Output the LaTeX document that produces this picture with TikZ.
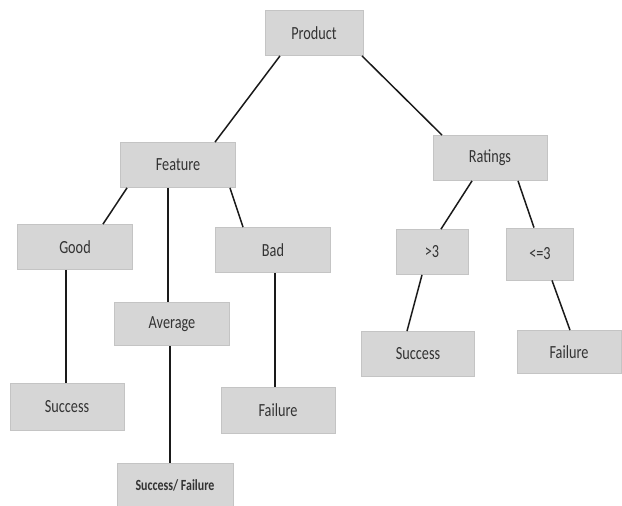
\documentclass[tikz,border=0pt]{standalone}
\usepackage{fontspec}
\setmainfont{Carlito}[FakeStretch=0.77]
\definecolor{boxfill}{HTML}{D6D6D6}
\definecolor{boxline}{HTML}{C4C4C4}
\definecolor{linec}{HTML}{1A1A1A}
\begin{document}
\begin{tikzpicture}[x=1pt,y=-1pt,
  box/.style={draw=boxline,fill=boxfill,line width=0.8pt,inner sep=0pt,font=\fontsize{18.5}{20}\selectfont,text=black!80},
  conn/.style={draw=linec,line width=1.5pt}]
\useasboundingbox (0,0) rectangle (622,506);
\node[box,minimum width=98,minimum height=45] (product) at (314,33) {Product};
\node[box,minimum width=115,minimum height=45] (feature) at (178,165) {Feature};
\node[box,minimum width=114,minimum height=45] (ratings) at (490,158) {Ratings};
\node[box,minimum width=115,minimum height=45] (good) at (75,247) {Good};
\node[box,minimum width=115,minimum height=43] (average) at (172,324) {Average};
\node[box,minimum width=115,minimum height=45] (bad) at (273,250) {Bad};
\node[box,minimum width=72,minimum height=45] (gt3) at (432,252) {>3};
\node[box,minimum width=67,minimum height=52] (le3) at (540,254) {<=3};
\node[box,minimum width=114,minimum height=47] (succL) at (67,407) {Success};
\node[box,minimum width=114,minimum height=46] (failM) at (278,410) {Failure};
\node[box,minimum width=116,minimum height=44,font=\fontsize{15.5}{17}\selectfont\bfseries] (sf) at (175,485) {Success/ Failure};
\node[box,minimum width=113,minimum height=45] (succR) at (418,354) {Success};
\node[box,minimum width=104,minimum height=43] (failR) at (569,352) {Failure};
\draw[conn] ([xshift=-34]product.south) -- ([xshift=37]feature.north);
\draw[conn] ([xshift=48]product.south) -- ([xshift=-48]ratings.north);
\draw[conn] ([xshift=-51]feature.south) -- ([xshift=28]good.north);
\draw[conn] ([xshift=-10]feature.south) -- ([xshift=-4]average.north);
\draw[conn] ([xshift=52]feature.south) -- ([xshift=-30]bad.north);
\draw[conn] ([xshift=-9]good.south) -- ([xshift=-1]succL.north);
\draw[conn] ([xshift=-2]average.south) -- ([xshift=-5]sf.north);
\draw[conn] ([xshift=2]bad.south) -- ([xshift=-3]failM.north);
\draw[conn] ([xshift=-18]ratings.south) -- ([xshift=9]gt3.north);
\draw[conn] ([xshift=28]ratings.south) -- ([xshift=-6]le3.north);
\draw[conn] ([xshift=-10]gt3.south) -- ([xshift=-11]succR.north);
\draw[conn] ([xshift=12]le3.south) -- ([xshift=1]failR.north);
\end{tikzpicture}
\end{document}
